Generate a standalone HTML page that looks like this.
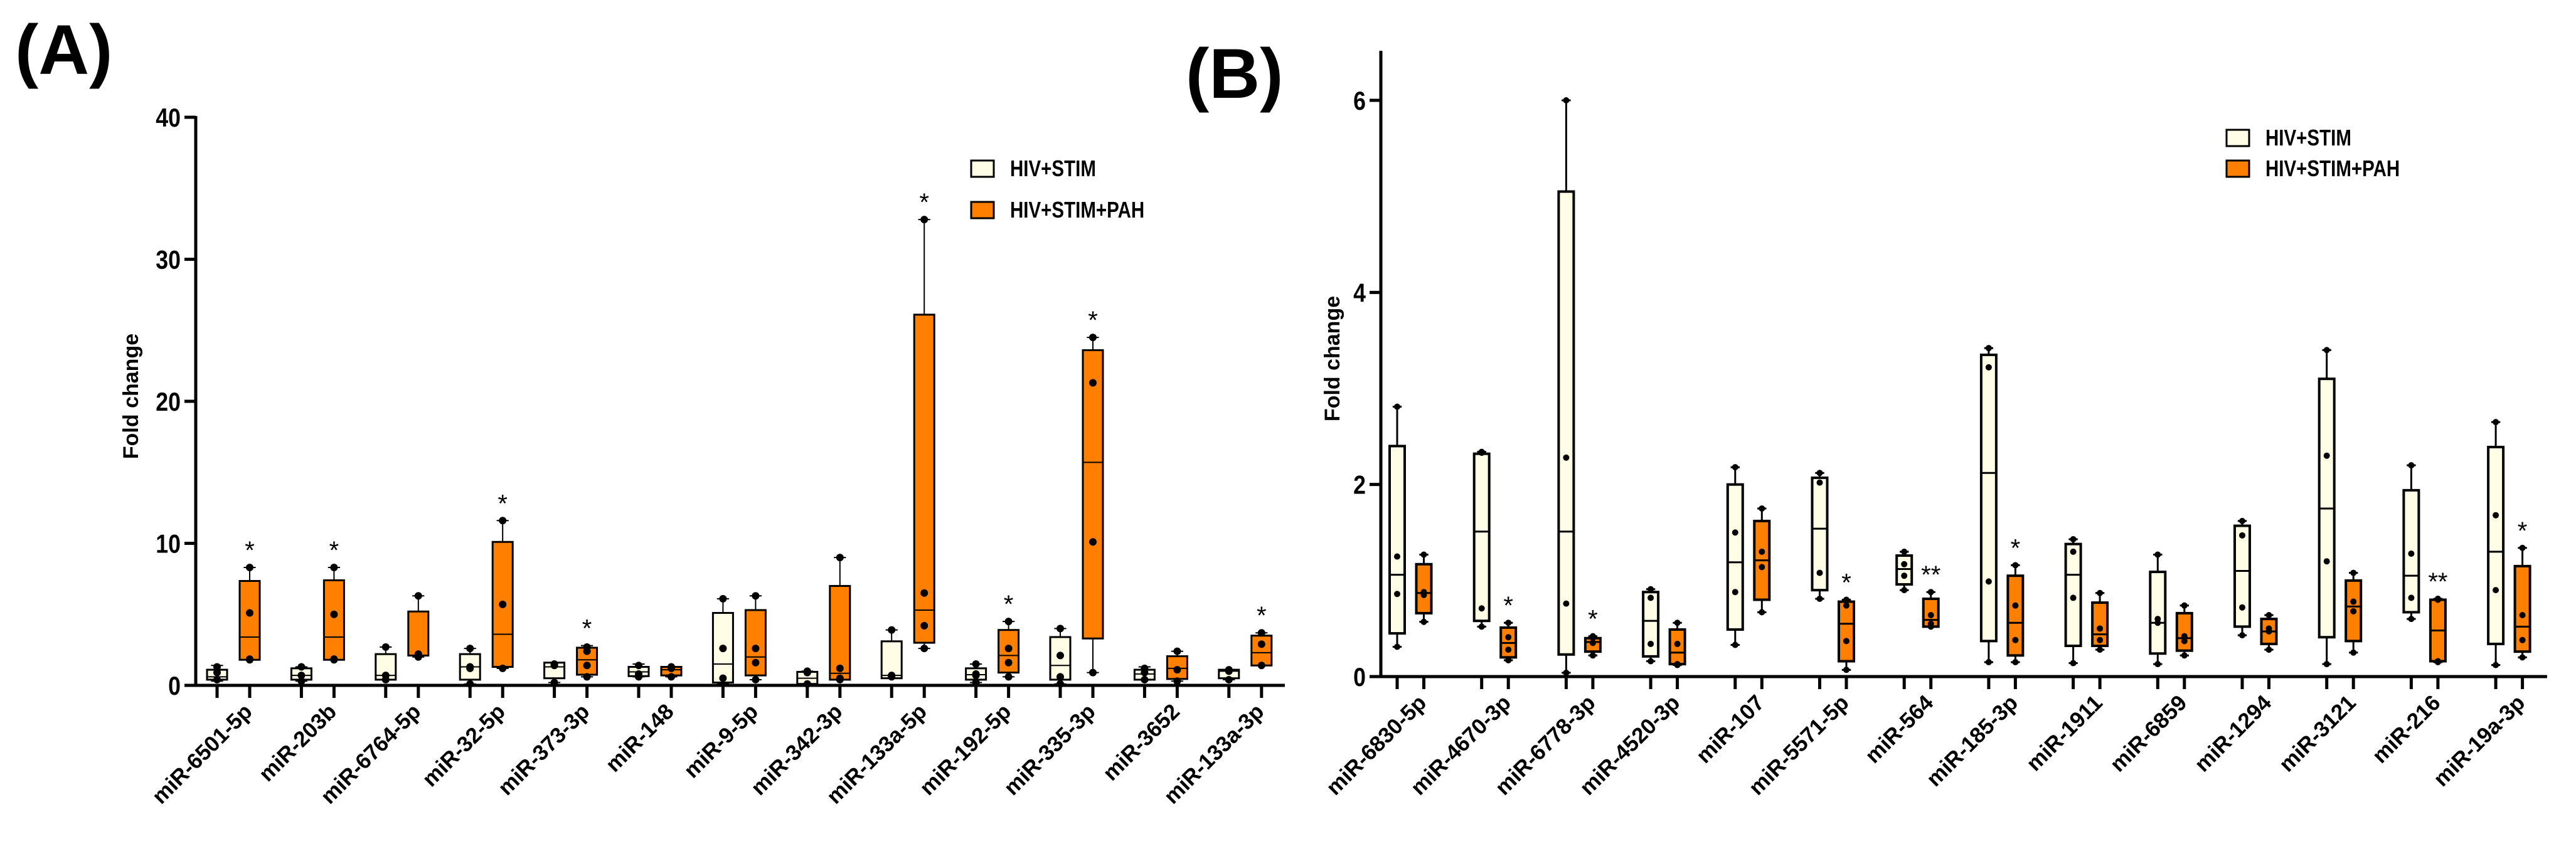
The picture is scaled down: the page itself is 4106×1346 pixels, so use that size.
<!DOCTYPE html>
<html><head><meta charset="utf-8"><style>
html,body{margin:0;padding:0;background:#fff;}
svg{display:block;font-family:"Liberation Sans",Arial,sans-serif;}
</style></head><body>
<svg id="fig" width="4106" height="1346" viewBox="0 0 4106 1346" xmlns="http://www.w3.org/2000/svg">
<text x="24" y="118" font-size="112" font-weight="bold">(A)</text>
<text x="1890" y="156" font-size="112" font-weight="bold">(B)</text>
<g id="pa"></g>
<g id="pb"></g>
</svg>
<script>
// ---- Panel A data ----
const catsA = ["miR-6501-5p","miR-203b","miR-6764-5p","miR-32-5p","miR-373-3p","miR-148","miR-9-5p","miR-342-3p","miR-133a-5p","miR-192-5p","miR-335-3p","miR-3652","miR-133a-3p"];
// [min,q1,median,q3,max]
const stimA = [[0.3,0.4,0.6,1.1,1.4],[0.3,0.4,0.7,1.2,1.3],[0.4,0.4,0.7,2.2,2.7],[0.1,0.4,1.3,2.2,2.6],[0.2,0.5,1.3,1.6,1.6],[0.6,0.65,0.95,1.3,1.5],[0.1,0.2,1.5,5.1,6.1],[0.1,0.1,0.5,0.95,1.0],[0.5,0.5,0.7,3.1,3.9],[0.2,0.4,0.75,1.2,1.5],[0.1,0.4,1.4,3.4,4.0],[0.4,0.4,0.8,1.1,1.3],[0.4,0.5,1.0,1.1,1.1]];
const pahA = [[1.8,1.8,3.4,7.35,8.3],[1.8,1.8,3.4,7.4,8.3],[2.0,2.1,2.1,5.2,6.3],[1.2,1.3,3.6,10.1,11.6],[0.6,0.75,1.8,2.65,2.8],[0.6,0.7,1.1,1.3,1.3],[0.4,0.7,2.0,5.3,6.3],[0.4,0.4,0.85,7.0,9.0],[2.6,3.0,5.3,26.1,32.8],[0.6,0.9,2.1,3.9,4.5],[0.9,3.3,15.7,23.6,24.5],[0.3,0.45,1.2,2.05,2.4],[1.4,1.4,2.3,3.5,3.7]];
const stimPtsA = [[0.4,0.9,1.3],[0.3,0.7,1.3],[0.4,0.7,2.7],[0.1,1.2,1.3,2.6],[0.2,1.4,1.5],[0.6,0.8,1.4],[0.5,2.6,6.1],[0.1,0.9,1.0],[0.6,0.7,3.9],[0.2,0.7,0.8,1.5],[0.1,0.6,2.1,4.0],[0.4,0.9,1.2],[0.4,1.0,1.1]];
const pahPtsA = [[1.8,1.85,5.1,8.3],[1.8,1.85,5.0,8.3],[2.0,2.1,2.2,6.3],[1.2,5.7,11.6],[0.6,1.4,2.4,2.7],[0.6,1.2,1.3],[0.4,1.6,2.6,6.3],[0.4,0.5,1.2,9.0],[2.6,4.2,6.5,32.8],[0.6,1.6,2.6,4.5],[0.9,10.1,21.3,24.5],[0.3,1.1,2.4],[1.4,2.9,3.7]];
const sigA = ["*","*","","*","*","","","","*","*","*","","*"];
const ticksA = [0,10,20,30,40];

// ---- Panel B data ----
const catsB = ["miR-6830-5p","miR-4670-3p","miR-6778-3p","miR-4520-3p","miR-107","miR-5571-5p","miR-564","miR-185-3p","miR-1911","miR-6859","miR-1294","miR-3121","miR-216","miR-19a-3p"];
const stimB = [[0.31,0.45,1.06,2.4,2.81],[0.52,0.58,1.51,2.32,2.34],[0.04,0.23,1.51,5.05,6.0],[0.16,0.21,0.58,0.88,0.91],[0.33,0.49,1.19,2.0,2.18],[0.81,0.9,1.54,2.07,2.12],[0.9,0.96,1.12,1.26,1.3],[0.15,0.37,2.12,3.35,3.42],[0.14,0.32,1.06,1.38,1.43],[0.13,0.24,0.56,1.09,1.27],[0.43,0.52,1.1,1.57,1.62],[0.13,0.41,1.75,3.1,3.4],[0.6,0.67,1.05,1.94,2.2],[0.12,0.34,1.3,2.39,2.65]];
const pahB = [[0.57,0.66,0.87,1.17,1.27],[0.17,0.2,0.35,0.51,0.56],[0.22,0.26,0.36,0.4,0.42],[0.12,0.13,0.25,0.49,0.56],[0.67,0.8,1.21,1.62,1.75],[0.07,0.16,0.55,0.78,0.8],[0.52,0.52,0.59,0.81,0.88],[0.15,0.22,0.56,1.05,1.16],[0.28,0.32,0.44,0.77,0.87],[0.22,0.27,0.4,0.66,0.74],[0.28,0.34,0.47,0.6,0.64],[0.25,0.37,0.73,1.0,1.08],[0.15,0.16,0.48,0.8,0.81],[0.2,0.26,0.52,1.15,1.34]];
const stimPtsB = [[0.31,0.86,1.25,2.81],[0.52,0.71,2.33,2.34],[0.04,0.76,2.28,6.0],[0.16,0.34,0.82,0.91],[0.33,0.88,1.5,2.18],[0.81,1.08,2.02,2.12],[0.9,1.05,1.17,1.3],[0.15,0.99,3.22,3.42],[0.14,0.82,1.3,1.43],[0.13,0.56,0.6,1.27],[0.43,0.72,1.47,1.62],[0.13,1.2,2.3,3.4],[0.6,0.82,1.28,2.2],[0.12,0.9,1.68,2.65]];
const pahPtsB = [[0.57,0.85,0.88,1.27],[0.17,0.28,0.41,0.56],[0.22,0.35,0.4,0.42],[0.12,0.13,0.34,0.56],[0.67,1.14,1.3,1.75],[0.07,0.37,0.74,0.8],[0.52,0.55,0.64,0.88],[0.15,0.38,0.74,1.16],[0.28,0.38,0.5,0.87],[0.22,0.37,0.42,0.74],[0.28,0.47,0.5,0.64],[0.25,0.68,0.78,1.08],[0.15,0.16,0.8,0.81],[0.2,0.38,0.64,1.34]];
const sigB = ["","*","*","","","*","**","*","","","","","**","*"];
const ticksB = [0,2,4,6];

const NS="http://www.w3.org/2000/svg";
function mk(parent,tag,attrs){const e=document.createElementNS(NS,tag);for(const k in attrs)e.setAttribute(k,attrs[k]);parent.appendChild(e);return e;}

function drawPanel(g,cfg){
  const yS=v=>cfg.y0-(v-0)*(cfg.y0-cfg.yTop)/cfg.max;
  const xS=(i,s)=>cfg.x0+i*cfg.step+s*cfg.off;
  let ya=mk(g,"line",{x1:cfg.ax,y1:cfg.axTop,x2:cfg.ax,y2:cfg.y0+2,stroke:"#000","stroke-width":cfg.aw});
  
  
  let xa=mk(g,"line",{x1:cfg.ax-18,y1:cfg.y0,x2:cfg.xEnd,y2:cfg.y0,stroke:"#000","stroke-width":cfg.aw});
  
  
  cfg.ticks.forEach(t=>{
    let tl=mk(g,"line",{x1:cfg.ax-18,y1:yS(t),x2:cfg.ax,y2:yS(t),stroke:"#000","stroke-width":cfg.aw});
    
    
    const tx0=cfg.ax-24;
    let tx=mk(g,"text",{x:tx0,y:yS(t)+15,"text-anchor":"end","font-size":42,"font-weight":"bold",transform:`translate(${tx0},0) scale(0.85,1) translate(${-tx0},0)`});
    tx.textContent=t;
    
    
  });
  let yt=mk(g,"text",{x:0,y:0,"text-anchor":"middle","font-size":34,"font-weight":"bold",transform:`translate(${cfg.ytx},${cfg.yty}) rotate(-90)`});
  yt.textContent="Fold change";
  
  
  const half=cfg.bw/2, cap=cfg.bw*0.3;
  cfg.cats.forEach((c,i)=>{
    [[cfg.stim,cfg.stimPts,"#fffde6",0],[cfg.pah,cfg.pahPts,"#ff8000",1]].forEach(([box,pts,col,s])=>{
      const b=box[i], x=xS(i,s);
      let tk=mk(g,"line",{x1:x,y1:cfg.y0,x2:x,y2:cfg.y0+20,stroke:"#000","stroke-width":cfg.aw});
      
      
      let wh=mk(g,"line",{x1:x,y1:yS(b[4]),x2:x,y2:yS(b[0]),stroke:"#000","stroke-width":cfg.lw-1});
      
      
      [b[0],b[4]].forEach(v=>{
        let cp=mk(g,"line",{x1:x-cap,y1:yS(v),x2:x+cap,y2:yS(v),stroke:"#000","stroke-width":cfg.lw-1});
        
        
      });
      let r=mk(g,"rect",{x:x-half,y:yS(b[3]),width:cfg.bw,height:Math.max(1,yS(b[1])-yS(b[3])),fill:col,stroke:"#000","stroke-width":cfg.lw});
      
      
      let md=mk(g,"line",{x1:x-half,y1:yS(b[2]),x2:x+half,y2:yS(b[2]),stroke:"#000","stroke-width":cfg.lw-1});
      
      
      pts[i].forEach(v=>{
        let d=mk(g,"circle",{cx:x,cy:yS(v),r:cfg.pr,fill:"#000"});
        
        
      });
      if(s===1 && cfg.sig[i]){
        let st=mk(g,"text",{x:x,y:yS(b[4])-14,"text-anchor":"middle","font-size":40});
        st.textContent=cfg.sig[i];
        
        
      }
    });
    const lx=xS(i,1)+6, ly=cfg.y0+44;
    let lb=mk(g,"text",{x:0,y:0,"text-anchor":"end","font-size":35,"font-weight":"bold",transform:`translate(${lx},${ly}) rotate(-45)`});
    lb.textContent=c;
    
    
  });
  [["HIV+STIM","#fffde6"],["HIV+STIM+PAH","#ff8000"]].forEach(([t,col],k)=>{
    const ly=cfg.legY+k*cfg.legGap;
    let sq=mk(g,"rect",{x:cfg.legX,y:ly-13,width:36,height:26,fill:col,stroke:"#000","stroke-width":3});
    
    
    const lx0=cfg.legX+62;
    let lt=mk(g,"text",{x:lx0,y:ly+12,"font-size":36,"font-weight":"bold",transform:`translate(${lx0},0) scale(0.82,1) translate(${-lx0},0)`});
    lt.textContent=t;
    
    
  });
}

drawPanel(document.getElementById('pa'),{cats:catsA,stim:stimA,pah:pahA,stimPts:stimPtsA,pahPts:pahPtsA,sig:sigA,ticks:ticksA,
  y0:1093,yTop:187,max:40,ax:312,axTop:185,xEnd:2048,x0:346,step:134.4,off:52,bw:32,lw:3,aw:5,pr:6,
  ytx:220,yty:632,legX:1548,legY:269,legGap:66});
drawPanel(document.getElementById('pb'),{cats:catsB,stim:stimB,pah:pahB,stimPts:stimPtsB,pahPts:pahPtsB,sig:sigB,ticks:ticksB,
  y0:1079,yTop:160,max:6,ax:2201,axTop:81,xEnd:4060,x0:2227,step:134.7,off:42.5,bw:24,lw:4,aw:5,pr:5,
  ytx:2135,yty:572,legX:3549,legY:220,legGap:49});
</script>
</body></html>
